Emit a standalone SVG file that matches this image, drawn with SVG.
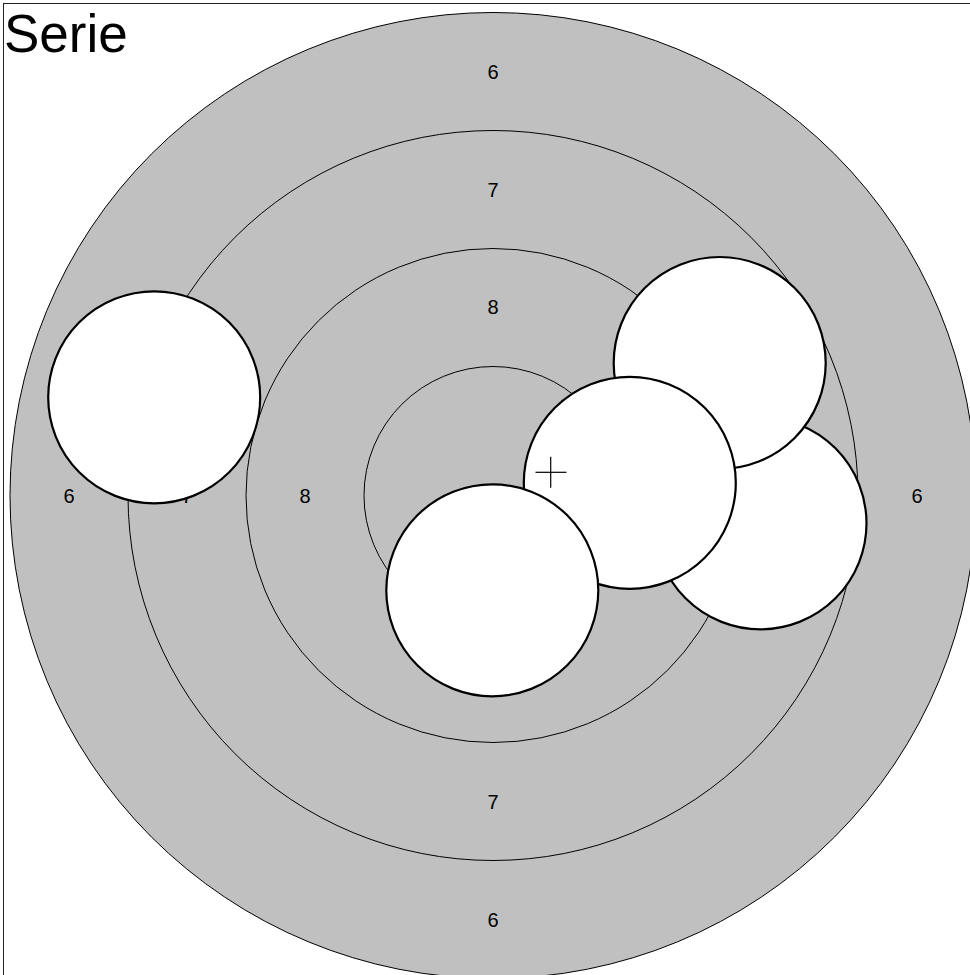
<svg xmlns="http://www.w3.org/2000/svg" width="970" height="975" viewBox="0 0 970 975">
<style>
.ring{fill:none;stroke:#000;stroke-width:1}
.lbl{font-family:"Liberation Sans",Arial,sans-serif;font-size:20px;fill:#000;text-anchor:middle}
.shot{fill:#fff;stroke:#000;stroke-width:2.2}
</style>
<rect x="0" y="0" width="970" height="975" fill="#fff"/>
<rect x="3.5" y="3.5" width="1000" height="1000" fill="none" stroke="#222" stroke-width="1"/>
<text x="4" y="52" font-family="'Liberation Sans',Arial,sans-serif" font-size="53" fill="#000">Serie</text>
<g id="target">
<circle cx="493" cy="495.5" r="483" fill="#c0c0c0" stroke="#000" stroke-width="1"/>
<circle class="ring" cx="493" cy="495.5" r="365"/>
<circle class="ring" cx="493" cy="495.5" r="247"/>
<circle class="ring" cx="493" cy="495.5" r="129"/>
</g>
<g id="labels">
<text class="lbl" x="493" y="79">6</text>
<text class="lbl" x="493" y="197">7</text>
<text class="lbl" x="493" y="314">8</text>
<text class="lbl" x="493" y="809">7</text>
<text class="lbl" x="493" y="927">6</text>
<text class="lbl" x="69" y="503">6</text>
<text class="lbl" x="187" y="503">7</text>
<text class="lbl" x="305" y="503">8</text>
<text class="lbl" x="917" y="503">6</text>
</g>
<g id="shots">
<circle id="shot1" class="shot" cx="154.2" cy="397.3" r="106"/>
<circle id="shot2" class="shot" cx="760.5" cy="523.3" r="106"/>
<circle id="shot3" class="shot" cx="719.7" cy="363" r="106"/>
<circle id="shot4" class="shot" cx="629.8" cy="482.8" r="106"/>
<circle id="shot5" class="shot" cx="492.3" cy="590.3" r="106"/>
</g>
<g id="cross" stroke="#000" stroke-width="1.2">
<line x1="535.5" y1="472.3" x2="566.5" y2="472.3"/>
<line x1="550.7" y1="456.7" x2="550.7" y2="487.7"/>
</g>
</svg>
